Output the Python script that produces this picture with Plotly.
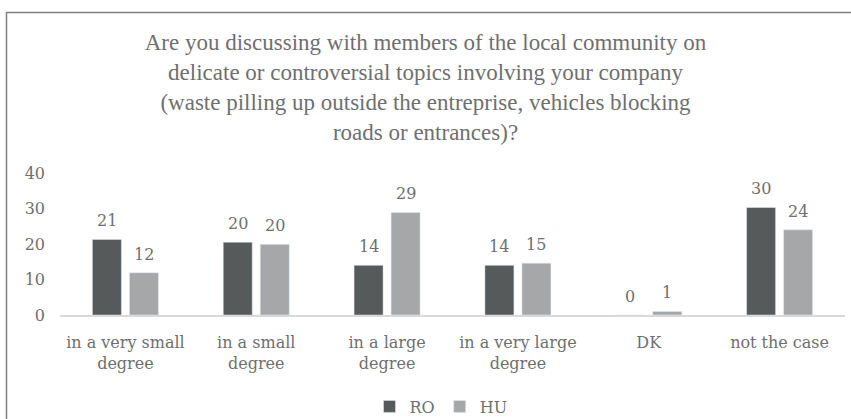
import plotly.graph_objects as go

categories = ["in a very small<br>degree", "in a small<br>degree", "in a large<br>degree",
              "in a very large<br>degree", "DK", "not the case"]
ro_values = [21.3, 20.5, 14.0, 14.0, 0.0, 30.3]
hu_values = [11.9, 19.9, 28.9, 14.6, 1.0, 24.0]
series_names = ["RO", "HU"]
y_ticks = [0, 10, 20, 30, 40]
title_text = ("Are you discussing with members of the local community on<br>"
              "delicate or controversial topics involving your company<br>"
              "(waste pilling up outside the entreprise, vehicles blocking<br>"
              "roads or entrances)?")

W, H = 851, 419
ML, MR, MT, MB = 60, 6, 173, 104
PW, PH = W - ML - MR, H - MT - MB
BARGAP, GROUPGAP = 0.434, 0.216

TEXT = "#6f6f6f"
FONT = "DejaVu Serif"
RO_COL = "#575A5B"
HU_COL = "#A5A7A8"

fig = go.Figure()
fig.add_trace(go.Bar(x=categories, y=ro_values, name=series_names[0], marker_color=RO_COL))
fig.add_trace(go.Bar(x=categories, y=hu_values, name=series_names[1], marker_color=HU_COL))

slot = PW / len(categories) * (1 - BARGAP) / 2
for vals, sign in ((ro_values, -1), (hu_values, 1)):
    for c, v in zip(categories, vals):
        fig.add_annotation(x=c, y=v, xref="x", yref="y", text=f"{v:.0f}", showarrow=False,
                           yanchor="bottom", xanchor="center", yshift=7,
                           xshift=sign * slot / 2,
                           font=dict(family=FONT, size=16, color=TEXT))

fig.add_shape(type="rect", xref="paper", yref="paper",
              x0=(6.5 - ML) / PW, x1=(W + 20 - ML) / PW,
              y0=-(H + 20 - (MT + PH)) / PH, y1=(MT + PH - 12.5) / PH,
              line=dict(color="#7f7f7f", width=1.5), fillcolor="rgba(0,0,0,0)", layer="below")

fig.update_layout(
    width=W, height=H,
    margin=dict(l=ML, r=MR, t=MT, b=MB, pad=0),
    paper_bgcolor="white", plot_bgcolor="white",
    barmode="group", bargap=BARGAP, bargroupgap=GROUPGAP,
    title=dict(text=title_text, x=0.5, xref="container", xanchor="center",
               y=1 - 50 / H, yref="container", yanchor="top",
               font=dict(family="Liberation Serif", size=23, color=TEXT)),
    font=dict(family=FONT, size=16, color=TEXT),
    showlegend=True,
    legend=dict(orientation="h", xref="container", yref="container",
                x=441 / W, xanchor="center", y=1 - 406.5 / H, yanchor="middle",
                font=dict(family=FONT, size=16, color=TEXT), itemwidth=30,
                bgcolor="rgba(0,0,0,0)"),
    xaxis=dict(showline=True, linecolor="#D9D9D9", linewidth=1.5, showgrid=False,
               ticks="", tickfont=dict(family=FONT, size=16, color=TEXT),
               ticklabelstandoff=12),
    yaxis=dict(range=[0, 40], tickvals=y_ticks, showgrid=False, zeroline=False,
               showline=False, ticks="", tickfont=dict(family=FONT, size=16, color=TEXT),
               ticklabelstandoff=14),
)

fig.write_html("out.html")
